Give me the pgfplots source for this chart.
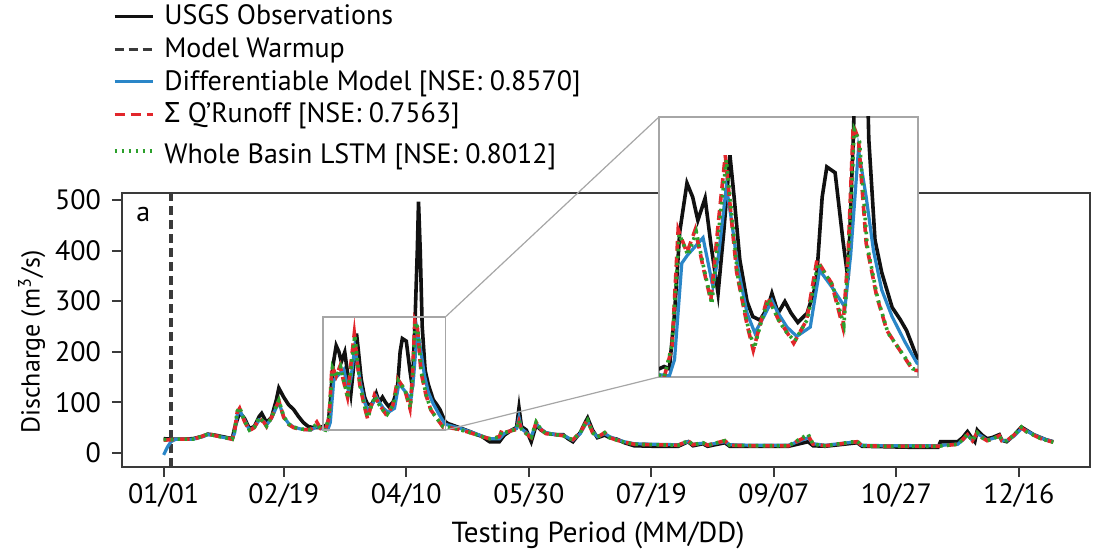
\documentclass[border=0pt]{standalone}
\usepackage{fontspec}
\setmainfont{PT Sans}
\newfontfamily\grk{Noto Sans}
\usepackage{pgfplots}
\pgfplotsset{compat=1.18}
\definecolor{obsc}{HTML}{111111}
\definecolor{bluec}{HTML}{2A86C8}
\definecolor{redc}{HTML}{E2262B}
\definecolor{greenc}{HTML}{2CA02C}
\definecolor{framec}{HTML}{3A3A3A}

\newcommand{\obsdata}{
(0,28) (3,27) (8,27) (12,28) (16,33) (18,37) (21,35) (25,31) (28,28) (29,50) (31,80) (33,68) (35,48) (37,52) (39,72) (40,78) (42,60) (44,70) (46,105) (47,128) (49,110) (51,95) (53,86) (55,72) (57,60) (59,52) (61,50) (63,50) (65,52) (66,54) (67,52) (68,100) (69,170) (70.4,212) (71.5,200) (72.5,180) (73.9,199) (75,160) (76.4,117) (77.5,170) (78.7,236) (79.5,200) (80.6,146) (82,110) (83.1,97) (84.5,94) (86,105) (86.8,117) (88,100) (89.3,110) (90.5,100) (91.8,92) (93.6,100) (95,120) (95.5,135) (96.5,200) (97.4,226) (99,221) (100.5,163) (101.5,129) (102.5,250) (103.5,400) (104,497) (104.7,400) (105.5,250) (106.7,163) (108,135) (110,105) (111.5,95) (112.8,85) (114.8,62) (116,58) (120,51) (125,42) (130,32) (133,22) (137,22) (139,35) (142,45) (144,50) (145,89) (146,52) (148,45) (150,22) (152,55) (154,45) (156,39) (160,36) (163,36) (165,28) (167,22) (170,40) (172,60) (173,69) (175,45) (177,30) (180,35) (182,30) (185,27) (188,20) (192,14) (200,13) (210,13) (214,22) (216,14) (220,18) (222,13) (229,20) (231,13) (240,13) (255,13) (263,22) (265,14) (270,13) (283,20) (285,13) (295,12) (305,11) (316,11) (317,22) (324,22) (326,30) (328,42) (330,28) (331,22) (332,45) (334,35) (336,28) (338,30) (341,36) (342,25) (344,22) (347,35) (350,51) (352,45) (355,36) (358,30) (360,26) (363,22)
}
\newcommand{\bluedata}{
(0,-4) (1.6,12) (3,22) (5,27) (12,27) (16,32) (18,36) (21,34) (25,30) (28,27) (29,40) (30,75) (31,84) (33,65) (35,45) (37,50) (39,65) (41,62) (42,55) (44,68) (46,90) (47,100) (49,71) (51,58) (53,51) (56,47) (60,45) (62.5,52) (65,47) (67,46) (68,60) (69.4,143) (70.5,150) (72.5,160) (73.5,165) (75.4,123) (76.5,150) (78,209) (79,180) (80.2,140) (82,100) (83.5,83) (85,95) (86.8,111) (88,100) (89.7,88) (91.6,80) (94.2,88) (95,110) (96,137) (98.3,123) (100.9,105) (102,150) (103.5,241) (105,200) (106.4,154) (108,120) (110,97) (112.5,75) (114.8,57) (116,55) (120,50) (125,42) (130,33) (133,28) (137,28) (139,38) (142,45) (144,48) (145,70) (146,48) (148,40) (150,32) (152,58) (154,47) (156,40) (160,36) (163,35) (165,30) (167,25) (170,38) (172,55) (173,62) (175,42) (177,32) (180,38) (182,32) (185,26) (188,22) (192,18) (200,17) (210,16) (214,22) (216,17) (220,19) (222,16) (229,22) (231,16) (240,15) (255,15) (263,30) (265,18) (270,15) (283,22) (285,15) (295,14) (305,14) (316,14) (320,16) (324,17) (326,25) (328,35) (330,25) (332,38) (334,32) (336,25) (338,28) (341,32) (342,25) (344,24) (347,33) (350,48) (352,44) (355,36) (358,30) (360,26) (363,22)
}
\newcommand{\reddata}{
(0,25) (3,26) (5,27) (12,27) (16,33) (18,38) (21,34) (25,30) (28,27) (29,45) (30,80) (31,88) (33,62) (35,44) (37,50) (39,68) (41,60) (42,52) (44,70) (46,92) (47,103) (49,70) (51,56) (53,50) (56,46) (60,46) (62.5,61) (64,48) (66,45) (67.5,70) (68.7,172) (70.4,152) (72,172) (73.5,140) (75,111) (76.5,180) (77.8,236) (79,180) (80,135) (82,90) (83.2,68) (84.5,90) (86,114) (88,95) (89.5,85) (91,74) (93.5,94) (95.5,146) (97,135) (98.3,126) (100.5,88) (101.5,150) (102.5,262) (103.5,250) (105,160) (107,115) (109,85) (111.5,68) (114,51) (116,50) (120,47) (125,40) (130,32) (133,28) (137,32) (138,45) (139,40) (142,44) (144,46) (145,62) (146,46) (148,38) (150,30) (152,60) (154,46) (156,38) (160,36) (163,34) (165,29) (167,26) (170,40) (172,58) (173,64) (175,40) (177,31) (180,40) (182,30) (185,25) (188,21) (192,17) (200,16) (210,15) (214,24) (216,16) (220,20) (222,15) (229,24) (231,15) (240,14) (255,14) (263,34) (265,17) (270,14) (283,22) (285,14) (295,13) (305,13) (316,13) (320,15) (324,17) (326,26) (328,36) (330,24) (332,40) (334,30) (336,24) (338,27) (341,34) (342,24) (344,24) (347,35) (350,50) (352,42) (355,35) (358,28) (360,25) (363,21)
}
\newcommand{\greendata}{
(0,26) (3,26) (5,27) (12,27) (16,33) (18,37) (21,34) (25,30) (28,27) (29,46) (30,82) (31,90) (33,63) (35,45) (37,51) (39,70) (41,60) (42,53) (44,70) (46,93) (47,104) (49,72) (51,57) (53,51) (56,47) (60,46) (62.5,58) (64,48) (66,45) (67.5,72) (68.9,168) (70.6,150) (72.2,170) (73.7,138) (75.2,108) (76.7,178) (78,232) (79.2,178) (80.2,132) (82.2,88) (83.4,70) (84.7,92) (86.2,112) (88.2,93) (89.7,83) (91.2,76) (93.7,95) (95.7,143) (97.2,133) (98.5,124) (100.7,90) (101.7,155) (102.7,258) (103.7,248) (105.2,158) (107.2,113) (109.2,83) (111.7,67) (114,52) (116,51) (120,47) (125,40) (130,32) (133,28) (137,31) (138,42) (139,40) (142,44) (144,47) (145,64) (146,47) (148,38) (150,31) (152,61) (154,46) (156,38) (160,36) (163,34) (165,29) (167,26) (170,40) (172,58) (173,65) (175,40) (177,31) (180,40) (182,30) (185,25) (188,21) (192,17) (200,16) (210,15) (214,24) (216,16) (220,20) (222,15) (229,24) (231,15) (240,14) (255,14) (263,37) (265,17) (270,14) (283,23) (285,14) (295,13) (305,13) (316,13) (320,15) (324,17) (326,26) (328,37) (330,24) (332,40) (334,30) (336,24) (338,27) (341,34) (342,24) (344,24) (347,35) (350,51) (352,42) (355,35) (358,28) (360,25) (363,21)
}

\pgfplotsset{
  obsstyle/.style={color=obsc, line width=1.8pt},
  bluestyle/.style={color=bluec, line width=1.6pt},
  redstyle/.style={color=redc, line width=1.8pt, dash pattern=on 5pt off 3pt},
  greenstyle/.style={color=greenc, line width=1.8pt, dash pattern=on 1.3pt off 2.2pt},
}
\newcommand{\st}{\hspace{4.5pt}\rule{0pt}{11.8pt}}

\begin{document}
\begin{tikzpicture}
\useasboundingbox (0,0) rectangle (552.5pt,277.5pt);
\begin{axis}[
  name=main,
  at={(61pt,44pt)}, anchor=south west,
  width=484pt, height=137pt, scale only axis,
  xmin=-17, xmax=378, ymin=-28, ymax=514,
  axis line style={framec, line width=1.3pt},
  tick style={framec, line width=1.1pt},
  major tick length=5pt,
  tick align=outside,
  xtick pos=bottom, ytick pos=left,
  xtick={0,49,99,149,199,249,299,349},
  xticklabels={01/01,02/19,04/10,05/30,07/19,09/07,10/27,12/16},
  ytick={0,100,200,300,400,500},
  /pgf/number format/assume math mode=true,
  ticklabel style={font=\fontsize{14}{16}\selectfont},
  yticklabel style={xshift=-2pt},
  xlabel style={font=\fontsize{14.5}{16}\selectfont, yshift=0pt, xshift=-4pt},
  ylabel style={font=\fontsize{13}{15}\selectfont, yshift=-2pt, xshift=-6pt},
  xlabel={Testing Period (MM/DD)},
  ylabel={Discharge (m\textsuperscript{3}/s)},
  legend cell align=left,
  legend style={at={(-0.01,1.705)}, anchor=north west, draw=none, fill=none,
    font=\fontsize{14}{16}\selectfont, row sep=0pt, inner sep=0pt,
    nodes={inner sep=0.5pt, text depth=3.5pt}},
  legend image code/.code={\draw[#1] (0pt,0pt) -- (19pt,0pt);},
]
\addplot[obsstyle] coordinates {\obsdata};
\addlegendentry{\st USGS Observations}
\addplot[color=framec, line width=1.6pt, dash pattern=on 4.5pt off 2.5pt] coordinates {(3,-28) (3,514)};
\addlegendentry{\st Model Warmup}
\addplot[bluestyle] coordinates {\bluedata};
\addlegendentry{\st Differentiable Model [NSE: 0.8570]}
\addplot[redstyle] coordinates {\reddata};
\addlegendentry{\st{\grk Σ} Q’Runoff [NSE: 0.7563]}
\addplot[greenstyle] coordinates {\greendata};
\addlegendentry{\hspace{4.5pt}\rule{0pt}{16pt}Whole Basin LSTM [NSE: 0.8012]}
\draw[gray!70, line width=0.7pt] (axis cs:65,45) rectangle (axis cs:115,269);
\coordinate (zt) at (axis cs:115,269);
\coordinate (zb) at (axis cs:115,45);
\node[font=\fontsize{14}{16}\selectfont] at (rel axis cs:0.022,0.92) {a};
\end{axis}
\begin{axis}[
  name=inset,
  at={(329.5pt,89pt)}, anchor=south west,
  width=129.5pt, height=130pt, scale only axis,
  xmin=65, xmax=115, ymin=45, ymax=269,
  axis background/.style={fill=white},
  axis line style={gray!70, line width=0.7pt},
  xtick=\empty, ytick=\empty,
]
\addplot[obsstyle] coordinates {\obsdata};
\addplot[bluestyle] coordinates {\bluedata};
\addplot[redstyle] coordinates {\reddata};
\addplot[greenstyle] coordinates {\greendata};
\end{axis}
\draw[gray!70, line width=0.6pt] (zt) -- (inset.north west);
\draw[gray!70, line width=0.6pt] (zb) -- (inset.south west);
\end{tikzpicture}
\end{document}
